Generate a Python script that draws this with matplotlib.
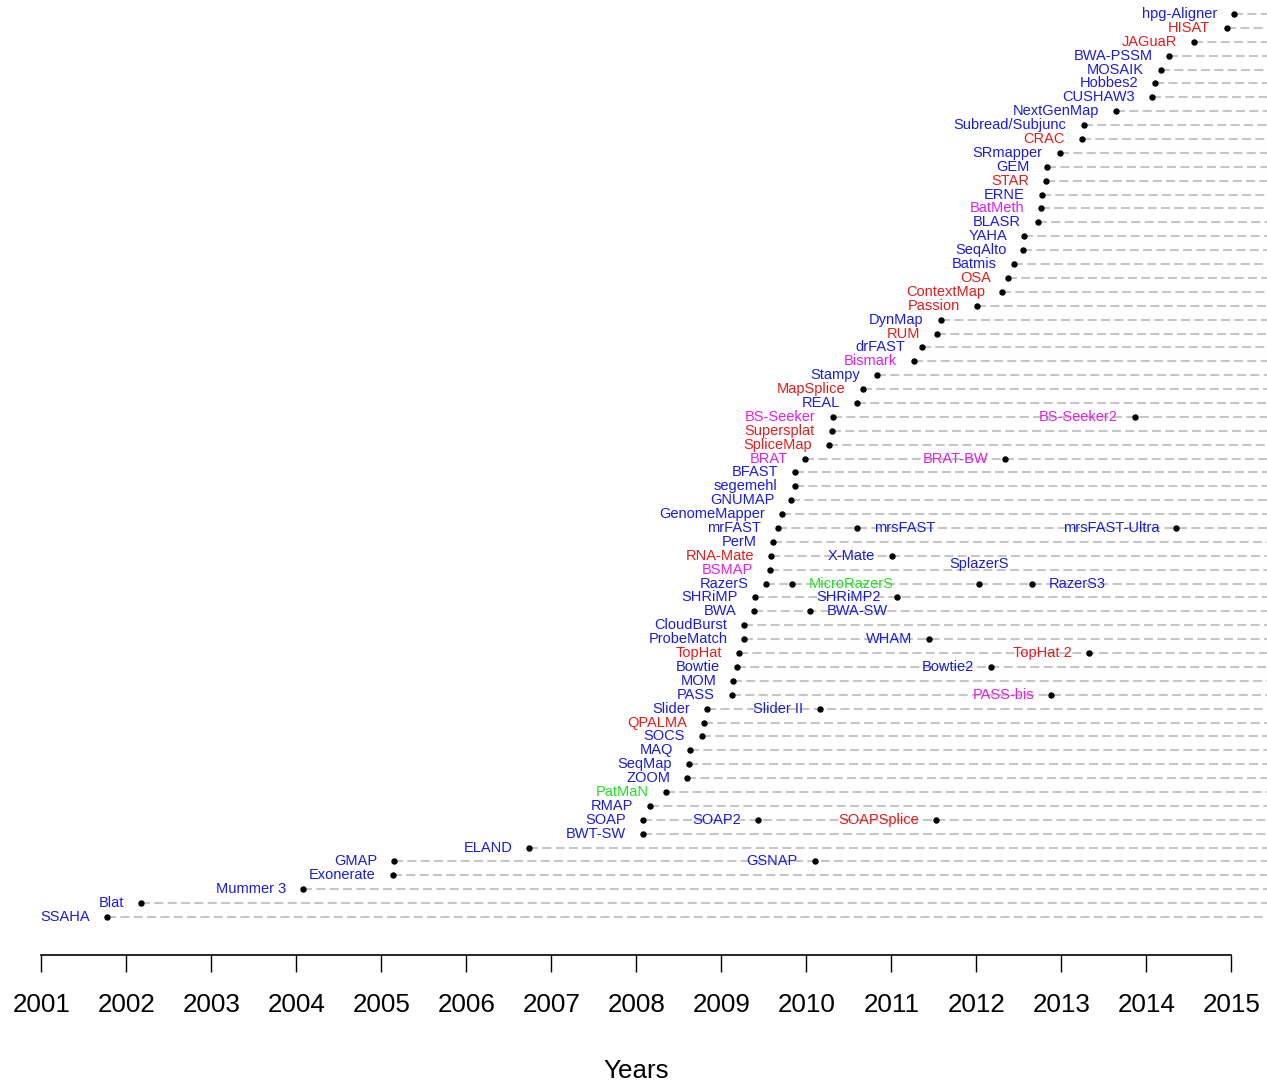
import matplotlib
matplotlib.use("Agg")
import matplotlib.pyplot as plt

plt.rcParams['font.family'] = ['Liberation Sans', 'DejaVu Sans']
plt.rcParams['lines.scale_dashes'] = False

# one entry per tool, listed row by row from bottom to top;
# "family" = the row (first tool of the row) the tool belongs to
tools = [
    "SSAHA", "Blat", "Mummer 3", "Exonerate", "GMAP", "GSNAP", "ELAND", "BWT-SW",
    "SOAP", "SOAP2", "SOAPSplice", "RMAP", "PatMaN", "ZOOM", "SeqMap", "MAQ", "SOCS",
    "QPALMA", "Slider", "Slider II", "PASS", "PASS-bis", "MOM", "Bowtie", "Bowtie2",
    "TopHat", "TopHat 2", "ProbeMatch", "WHAM", "CloudBurst", "BWA", "BWA-SW",
    "SHRiMP", "SHRiMP2", "RazerS", "MicroRazerS", "SplazerS", "RazerS3", "BSMAP",
    "RNA-Mate", "X-Mate", "PerM", "mrFAST", "mrsFAST", "mrsFAST-Ultra", "GenomeMapper",
    "GNUMAP", "segemehl", "BFAST", "BRAT", "BRAT-BW", "SpliceMap", "Supersplat",
    "BS-Seeker", "BS-Seeker2", "REAL", "MapSplice", "Stampy", "Bismark", "drFAST",
    "RUM", "DynMap", "Passion", "ContextMap", "OSA", "Batmis", "SeqAlto", "YAHA",
    "BLASR", "BatMeth", "ERNE", "STAR", "GEM", "SRmapper", "CRAC", "Subread/Subjunc",
    "NextGenMap", "CUSHAW3", "Hobbes2", "MOSAIK", "BWA-PSSM", "JAGuaR", "HISAT",
    "hpg-Aligner",
]
family = [
    "SSAHA", "Blat", "Mummer 3", "Exonerate", "GMAP", "GMAP", "ELAND", "BWT-SW",
    "SOAP", "SOAP", "SOAP", "RMAP", "PatMaN", "ZOOM", "SeqMap", "MAQ", "SOCS",
    "QPALMA", "Slider", "Slider", "PASS", "PASS", "MOM", "Bowtie", "Bowtie",
    "TopHat", "TopHat", "ProbeMatch", "ProbeMatch", "CloudBurst", "BWA", "BWA",
    "SHRiMP", "SHRiMP", "RazerS", "RazerS", "RazerS", "RazerS", "BSMAP",
    "RNA-Mate", "RNA-Mate", "PerM", "mrFAST", "mrFAST", "mrFAST", "GenomeMapper",
    "GNUMAP", "segemehl", "BFAST", "BRAT", "BRAT", "SpliceMap", "Supersplat",
    "BS-Seeker", "BS-Seeker", "REAL", "MapSplice", "Stampy", "Bismark", "drFAST",
    "RUM", "DynMap", "Passion", "ContextMap", "OSA", "Batmis", "SeqAlto", "YAHA",
    "BLASR", "BatMeth", "ERNE", "STAR", "GEM", "SRmapper", "CRAC", "Subread/Subjunc",
    "NextGenMap", "CUSHAW3", "Hobbes2", "MOSAIK", "BWA-PSSM", "JAGuaR", "HISAT",
    "hpg-Aligner",
]
released = [
    2001.77, 2002.17, 2004.08, 2005.13, 2005.15, 2010.10, 2006.74, 2008.08,
    2008.08, 2009.43, 2011.52, 2008.16, 2008.35, 2008.60, 2008.62, 2008.63, 2008.77,
    2008.79, 2008.83, 2010.16, 2009.12, 2012.88, 2009.14, 2009.18, 2012.17,
    2009.21, 2013.32, 2009.27, 2011.44, 2009.27, 2009.38, 2010.04,
    2009.39, 2011.07, 2009.52, 2009.83, 2012.03, 2012.65, 2009.57,
    2009.58, 2011.01, 2009.61, 2009.66, 2010.59, 2014.35, 2009.71,
    2009.82, 2009.86, 2009.87, 2009.98, 2012.34, 2010.26, 2010.30,
    2010.31, 2013.86, 2010.59, 2010.66, 2010.83, 2011.26, 2011.36,
    2011.54, 2011.58, 2012.01, 2012.30, 2012.37, 2012.44, 2012.55, 2012.56,
    2012.72, 2012.76, 2012.77, 2012.82, 2012.83, 2012.98, 2013.24, 2013.26,
    2013.64, 2014.06, 2014.10, 2014.17, 2014.27, 2014.56, 2014.95,
    2015.03,
]
kind = [
    "DNA", "DNA", "DNA", "DNA", "DNA", "DNA", "DNA", "DNA",
    "DNA", "DNA", "RNA", "DNA", "miRNA", "DNA", "DNA", "DNA", "DNA",
    "RNA", "DNA", "DNA", "DNA", "BS", "DNA", "DNA", "DNA",
    "RNA", "RNA", "DNA", "DNA", "DNA", "DNA", "DNA",
    "DNA", "DNA", "DNA", "miRNA", "DNA", "DNA", "BS",
    "RNA", "DNA", "DNA", "DNA", "DNA", "DNA", "DNA",
    "DNA", "DNA", "DNA", "BS", "BS", "RNA", "RNA",
    "BS", "BS", "DNA", "RNA", "DNA", "BS", "DNA",
    "RNA", "DNA", "RNA", "RNA", "RNA", "DNA", "DNA", "DNA",
    "DNA", "BS", "DNA", "RNA", "DNA", "DNA", "RNA", "DNA",
    "DNA", "DNA", "DNA", "DNA", "DNA", "RNA", "RNA",
    "DNA",
]
years = list(range(2001, 2016))

colors = {"DNA": "#1c1cd8", "RNA": "#e41c1c", "BS": "#e61ee6", "miRNA": "#22e022"}
right_labels = {"mrsFAST", "BWA-SW", "MicroRazerS", "RazerS3"}
top_labels = {"SplazerS"}

rows = []
for f in family:
    if f not in rows:
        rows.append(f)
row_of = {f: i + 1 for i, f in enumerate(rows)}

W, H = 1267, 1081
fig = plt.figure(figsize=(W / 100, H / 100), dpi=100)
ax = fig.add_axes([0, 126 / H, 1, 955 / H])
x0 = 2001 - 41.5 / 85
x1 = 2001 + (W - 41.5) / 85
ax.set_xlim(x0, x1)
step = 903 / 65
ax.set_ylim(1 - 38 / step, 1 + (955 - 38) / step)

# dashed guide from the first tool of each row to the right edge
for f in rows:
    start = min(r for r, g in zip(released, family) if g == f)
    ax.hlines(row_of[f], start, x1, colors="#c6c6c6", linewidth=1.5,
              linestyles=(0, (6.5, 3.1)), zorder=1)

for name, f, yr, k in zip(tools, family, released, kind):
    y = row_of[f]
    ax.plot(yr, y, "o", color="black", ms=3.6, zorder=3)
    if name in right_labels:
        off, ha = (17, -4), "left"
    elif name in top_labels:
        off, ha = (0, 15.5), "center"
    else:
        off, ha = (-17, -4), "right"
    ax.annotate(name, (yr, y), xytext=off, textcoords="offset pixels",
                ha=ha, va="baseline", color=colors[k], fontsize=10.5, zorder=2)

for s in ["top", "right", "left"]:
    ax.spines[s].set_visible(False)
ax.spines["bottom"].set_bounds(2001, 2015)
ax.spines["bottom"].set_linewidth(1.2)
ax.set_yticks([])
ax.set_xticks(years)
ax.set_xticklabels([str(y) for y in years])
ax.tick_params(axis="x", length=12.2, width=1.0, pad=15, labelsize=18.7)
fig.text(636.5 / W, 1 - 1078 / H, "Years", ha="center", va="baseline", fontsize=18.7)

fig.savefig("out.png", dpi=100)
